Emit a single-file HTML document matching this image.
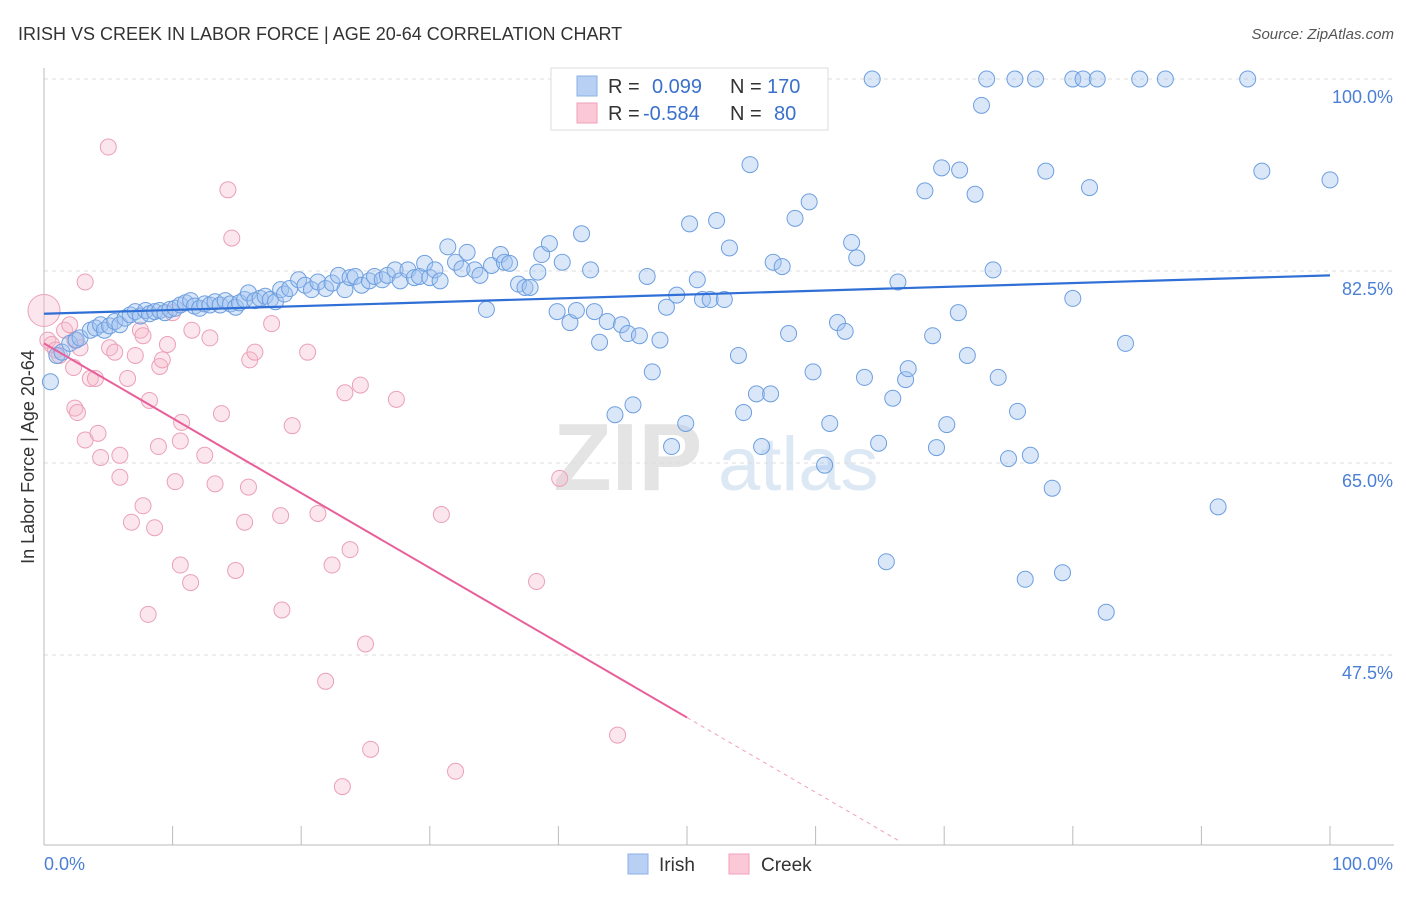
<!DOCTYPE html>
<html><head><meta charset="utf-8">
<style>
body{margin:0;background:#fff;font-family:"Liberation Sans",sans-serif;}
svg text{font-family:"Liberation Sans",sans-serif;}
</style></head>
<body>
<svg id="chart" width="1406" height="892" viewBox="0 0 1406 892" xmlns="http://www.w3.org/2000/svg">
<text x="18" y="40" font-size="18" fill="#333">IRISH VS CREEK IN LABOR FORCE | AGE 20-64 CORRELATION CHART</text>
<text x="1394" y="39" font-size="15" fill="#555" text-anchor="end" font-style="italic">Source: ZipAtlas.com</text>
<g>
<text x="553" y="490" font-size="96" fill="#e4e4e4" font-family="Liberation Serif" font-weight="bold">ZIP</text>
<text x="718" y="490" font-size="76" fill="#dde8f5">atlas</text>
</g>
<g id="grid"></g>
<g id="axes"></g>
<g id="pinkpts"></g>
<g id="bluepts"></g>
<g id="trends"></g>
<text transform="translate(34,457) rotate(-90)" font-size="18" fill="#333" text-anchor="middle">In Labor Force | Age 20-64</text>
<text x="44" y="870" font-size="18" fill="#4a7fd4">0.0%</text>
<text x="1393" y="870" font-size="18" fill="#4a7fd4" text-anchor="end">100.0%</text>
<g>
<rect x="551" y="68" width="277" height="62" fill="#fff" stroke="#ddd"/>
<rect x="577" y="76" width="20" height="20" fill="#b8d0f4" stroke="#8ab0e6"/>
<rect x="577" y="103" width="20" height="20" fill="#fac8d6" stroke="#f0a0b8"/>
<text x="608" y="93" font-size="20" fill="#333">R =</text>
<text x="652" y="93" font-size="20" fill="#3a70cc">0.099</text>
<text x="730" y="93" font-size="20" fill="#333">N =</text>
<text x="767" y="93" font-size="20" fill="#3a70cc">170</text>
<text x="608" y="120" font-size="20" fill="#333">R =</text>
<text x="643" y="120" font-size="20" fill="#3a70cc">-0.584</text>
<text x="730" y="120" font-size="20" fill="#333">N =</text>
<text x="774" y="120" font-size="20" fill="#3a70cc">80</text>
</g>
<g>
<rect x="628" y="854" width="20" height="20" fill="#b8d0f4" stroke="#8ab0e6"/>
<text x="659" y="871" font-size="19" fill="#333">Irish</text>
<rect x="729" y="854" width="20" height="20" fill="#fac8d6" stroke="#f0a0b8"/>
<text x="761" y="871" font-size="19" fill="#333">Creek</text>
</g>
</svg>
<script>
const yTicks=[100,82.5,65,47.5];
const yTickLabels=["100.0%","82.5%","65.0%","47.5%"];
const irishX=[0.5,1.0,1.4,2.0,2.5,2.8,3.6,4.0,4.4,4.7,5.1,5.5,5.9,6.3,6.7,7.1,7.5,7.9,8.2,8.6,9.0,9.4,9.8,10.2,10.6,11.0,11.4,11.7,12.1,12.5,12.9,13.3,13.7,14.1,14.5,14.9,15.2,15.6,15.9,16.4,16.8,17.2,17.6,18.0,18.4,18.7,19.1,19.8,20.3,20.8,21.3,21.9,22.4,22.9,23.4,23.8,24.2,24.7,25.3,25.7,26.3,26.7,27.3,27.7,28.3,28.8,29.2,29.6,30.0,30.4,30.8,31.4,32.0,32.5,32.9,33.5,33.9,34.4,34.8,35.5,35.8,36.2,36.9,37.4,37.8,38.4,38.7,39.3,39.9,40.3,40.9,41.4,41.8,42.5,42.8,43.2,43.8,44.4,44.9,45.4,45.8,46.3,46.9,47.3,47.9,48.4,48.8,49.2,49.9,50.2,50.8,51.2,51.8,52.3,52.9,53.3,54.0,54.4,54.9,55.4,55.8,56.5,56.7,57.4,57.9,58.4,59.5,59.8,60.7,61.1,61.7,62.3,62.8,63.2,63.8,64.4,64.9,65.5,66.0,66.4,67.0,67.2,68.5,69.1,69.4,69.8,70.2,71.2,71.1,71.8,72.4,72.9,73.3,73.8,74.2,75.0,75.5,75.7,76.3,76.7,77.1,77.9,78.4,79.2,80.0,80.0,80.8,81.3,81.9,82.6,84.1,85.2,87.2,91.3,93.6,94.7,100];
const irishY=[72.4,74.8,75.1,75.9,76.2,76.4,77.1,77.3,77.6,77.1,77.5,77.9,77.6,78.2,78.5,78.8,78.4,78.9,78.6,78.8,78.9,78.7,79.0,79.1,79.4,79.6,79.8,79.3,79.1,79.5,79.4,79.7,79.4,79.8,79.5,79.2,79.6,79.9,80.5,79.8,80.0,80.2,79.9,79.7,80.8,80.4,80.9,81.7,81.2,80.8,81.5,80.9,81.4,82.1,80.8,81.9,82.0,81.2,81.6,82.0,81.7,82.1,82.6,81.6,82.6,81.9,82.0,83.2,81.9,82.6,81.6,84.7,83.3,82.7,84.2,82.6,82.1,79.0,83.0,84.0,83.3,83.2,81.3,81.0,81.0,82.4,84.0,85.0,78.8,83.3,77.8,78.9,85.9,82.6,78.8,76.0,77.9,69.4,77.6,76.8,70.3,76.6,82.0,73.3,76.2,79.2,66.5,80.3,68.6,86.8,81.7,79.9,79.9,87.1,79.9,84.6,74.8,69.6,92.2,71.3,66.5,71.3,83.3,82.9,76.8,87.3,88.8,73.3,64.8,68.6,77.8,77.0,85.1,83.7,72.8,100,66.8,56.0,70.9,81.5,72.6,73.6,89.8,76.6,66.4,91.9,68.5,91.7,78.7,74.8,89.5,97.6,100,82.6,72.8,65.4,100,69.7,54.4,65.7,100,91.6,62.7,55.0,100,80.0,100,90.1,100,51.4,75.9,100,100,61.0,100,91.6,90.8];
const creekX=[0,0.3,0.6,0.9,1.2,1.6,2.0,2.4,2.8,3.2,2.3,2.4,2.6,3.2,3.6,4.0,4.2,4.4,5.0,5.1,5.5,5.9,5.9,6.5,6.8,7.1,7.5,7.7,7.7,8.1,8.2,8.6,8.9,9.0,9.2,9.6,10.0,10.2,10.6,10.6,10.7,11.4,11.5,12.5,12.9,13.3,13.8,14.3,14.6,14.9,15.6,15.9,16.0,16.4,17.7,18.4,18.5,19.3,20.5,21.3,21.9,22.4,23.2,23.4,23.8,24.6,25.0,25.4,27.4,30.9,32.0,38.3,40.1,44.6];
const creekY=[78.9,76.2,75.8,75.3,74.8,77.1,77.6,76.2,75.5,81.5,73.7,70.0,69.6,67.1,72.7,72.7,67.7,65.5,93.8,75.5,75.1,65.7,63.7,72.7,59.6,74.8,77.1,76.6,61.1,51.2,70.7,59.1,66.5,73.8,74.4,75.8,78.7,63.3,55.7,67.0,68.7,54.1,77.1,65.7,76.4,63.1,69.5,89.9,85.5,55.2,59.6,62.8,74.4,75.1,77.7,60.2,51.6,68.4,75.1,60.4,45.1,55.7,35.5,71.4,57.1,72.1,48.5,38.9,70.8,60.3,36.9,54.2,63.6,40.2];
const irishTrend=[78.6,82.1];
const creekTrend=[75.9,-0.682];

const NS="http://www.w3.org/2000/svg";
const X=v=>44+v*12.86;
const Y=v=>79+(100-v)*10.971;
function mk(tag,attrs,parent){const e=document.createElementNS(NS,tag);for(const k in attrs)e.setAttribute(k,attrs[k]);parent.appendChild(e);return e;}
const grid=document.getElementById('grid'),axes=document.getElementById('axes');
yTicks.forEach((t,i)=>{
  const l=mk('line',{x1:44,x2:1394,y1:Y(t),y2:Y(t),stroke:'#dcdcdc','stroke-dasharray':'4,4'},grid);
  
  
  const tx=mk('text',{x:1393,y:Y(t)+24,'font-size':18,fill:'#4a7fd4','text-anchor':'end'},grid);
  
  
  tx.textContent=yTickLabels[i];
});
const ax=mk('line',{x1:44,x2:1394,y1:845,y2:845,stroke:'#bbb'},axes);


const ay=mk('line',{x1:44,x2:44,y1:68,y2:845,stroke:'#bbb'},axes);


for(let i=0;i<=10;i++){
  const t=mk('line',{x1:X(i*10),x2:X(i*10),y1:826,y2:845,stroke:'#bbb'},axes);
  
  
}
const pg=document.getElementById('pinkpts');
creekX.forEach((x,i)=>{
  const c=mk('circle',{cx:X(x),cy:Y(creekY[i]),r:i===0?16:8,fill:'rgba(246,182,202,0.35)',stroke:'#eba0b8','stroke-width':1},pg);
  
  
});
const bg=document.getElementById('bluepts');
irishX.forEach((x,i)=>{
  const c=mk('circle',{cx:X(x),cy:Y(irishY[i]),r:8,fill:'rgba(160,195,240,0.4)',stroke:'#6e9fe0','stroke-width':1},bg);
  
  
});
const tg=document.getElementById('trends');
const bl=mk('line',{x1:X(0),y1:Y(irishTrend[0]),x2:X(100),y2:Y(irishTrend[1]),stroke:'#2f6fd6','stroke-width':2.2},tg);


const cy=x=>creekTrend[0]+creekTrend[1]*x;
const pl=mk('line',{x1:X(0),y1:Y(cy(0)),x2:X(50),y2:Y(cy(50)),stroke:'#e8609a','stroke-width':2},tg);


const pd=mk('line',{x1:X(50),y1:Y(cy(50)),x2:X(66.6),y2:Y(cy(66.6)),stroke:'#f0a0c0','stroke-width':1,'stroke-dasharray':'4,4'},tg);


</script>
</body></html>
